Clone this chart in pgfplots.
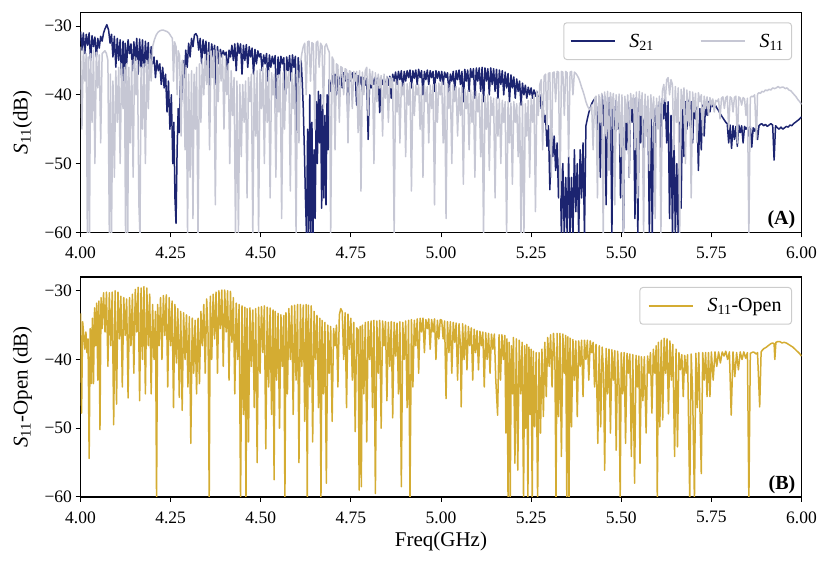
\documentclass[border=0pt]{standalone}
\usepackage{fontspec}
\setmainfont{Liberation Serif}
\usepackage{pgfplots}
\pgfplotsset{compat=1.18}
\definecolor{navyc}{RGB}{28,36,112}
\definecolor{grayc}{RGB}{198,199,212}
\definecolor{goldc}{RGB}{212,172,50}
\definecolor{legb}{RGB}{204,204,204}
\newcommand{\labfont}{\fontsize{21}{24}\selectfont}
\pgfplotsset{
 myax/.style={
  scale only axis, width=721pt, height=220pt,
  xmin=4, xmax=6, ymin=-60, ymax=-28,
  xtick={4,4.25,4.5,4.75,5,5.25,5.5,5.75,6},
  xticklabels={4.00,4.25,4.50,4.75,5.00,5.25,5.50,5.75,6.00},
  ytick={-60,-50,-40,-30},
  yticklabels={−60,−50,−40,−30},
  tick align=outside, tick pos=left,
  major tick length=5pt,
  every tick/.style={black, line width=1pt},
  axis line style={line width=1.1pt},
  tick label style={font=\fontsize{17.5}{20}\selectfont},
  xticklabel style={yshift=-6pt},
  every axis y label/.style={at={(axis description cs:-0.0804,0.5)}, rotate=90, anchor=center, font=\labfont},
  legend style={draw=legb, line width=1pt, rounded corners=3pt, fill=white,
    font=\fontsize{20}{24}\selectfont, at={(1,1)}, anchor=north east, xshift=-9.5pt, yshift=-10pt,
    inner xsep=6pt, inner ysep=9pt,
    /tikz/every odd column/.append style={column sep=12pt},
    /tikz/every even column/.append style={column sep=44pt}},
  legend image code/.code={\draw[#1,line width=1.6pt] (0pt,0pt) -- (44pt,0pt);},
  every axis plot/.append style={line width=1.5pt, line join=round},
 }
}
\begin{document}
\begin{tikzpicture}
% ---------------- top axis (A)
\begin{axis}[myax, at={(80.5pt,331.7pt)}, anchor=south west,
  ylabel={\textit{S}\textsubscript{11}(dB)}, legend columns=2]
\addplot[navyc] coordinates {
(4.000,-30.8) (4.004,-33.5) (4.008,-31.0) (4.012,-34.0) (4.016,-31.2) (4.020,-32.8) (4.024,-31.0) (4.028,-35.0) (4.032,-31.4) (4.036,-33.0) (4.040,-31.6) (4.044,-34.5) (4.048,-31.8) (4.052,-33.2) (4.056,-31.5) (4.060,-32.2) (4.064,-31.0) (4.068,-30.4) (4.073,-29.8) (4.078,-30.6) (4.082,-32.5) (4.086,-31.2) (4.090,-34.5) (4.094,-31.5) (4.098,-36.0) (4.102,-31.8) (4.106,-35.0) (4.110,-32.0) (4.114,-37.5) (4.118,-32.2) (4.121,-41.5) (4.124,-32.5) (4.128,-35.5) (4.132,-32.0) (4.136,-34.0) (4.140,-32.6) (4.144,-36.5) (4.148,-32.3) (4.152,-35.0) (4.156,-31.8) (4.160,-37.0) (4.164,-31.9) (4.168,-36.0) (4.172,-32.0) (4.176,-38.0) (4.180,-32.2) (4.184,-35.5) (4.188,-32.4) (4.192,-37.0) (4.196,-33.0) (4.200,-35.5) (4.204,-34.5) (4.208,-37.5) (4.212,-35.0) (4.216,-36.5) (4.220,-35.5) (4.224,-38.5) (4.228,-36.0) (4.232,-39.0) (4.236,-37.0) (4.240,-42.5) (4.244,-38.0) (4.248,-45.0) (4.252,-40.0) (4.256,-50.0) (4.259,-44.0) (4.262,-55.0) (4.265,-58.7) (4.268,-48.0) (4.271,-42.0) (4.274,-45.5) (4.277,-38.0) (4.280,-41.0) (4.284,-35.0) (4.288,-37.5) (4.292,-33.5) (4.296,-36.0) (4.300,-32.5) (4.304,-34.5) (4.308,-31.8) (4.312,-33.0) (4.316,-31.3) (4.320,-31.1) (4.324,-31.5) (4.328,-33.5) (4.332,-31.8) (4.336,-35.5) (4.340,-32.0) (4.344,-34.0) (4.348,-32.2) (4.352,-37.0) (4.356,-32.4) (4.358,-44.0) (4.360,-35.0) (4.364,-32.6) (4.368,-34.5) (4.372,-32.8) (4.376,-38.5) (4.380,-33.0) (4.384,-35.5) (4.388,-33.4) (4.392,-34.5) (4.396,-33.6) (4.400,-34.2) (4.404,-33.8) (4.408,-37.0) (4.412,-33.5) (4.416,-34.5) (4.420,-32.8) (4.424,-35.0) (4.428,-32.6) (4.432,-36.5) (4.436,-32.5) (4.440,-34.0) (4.444,-32.6) (4.448,-37.0) (4.452,-32.8) (4.456,-35.0) (4.460,-32.7) (4.464,-36.0) (4.468,-33.0) (4.472,-34.5) (4.476,-33.2) (4.480,-37.0) (4.484,-33.4) (4.488,-35.5) (4.492,-33.6) (4.496,-34.5) (4.500,-34.0)
(4.504,-36.5) (4.508,-34.2) (4.512,-35.5) (4.516,-34.0) (4.520,-38.0) (4.524,-34.2) (4.528,-36.0) (4.532,-34.4) (4.536,-35.5) (4.540,-34.3) (4.544,-42.5) (4.548,-34.5) (4.552,-37.0) (4.556,-34.4) (4.560,-35.5) (4.564,-34.6) (4.568,-41.0) (4.572,-34.5) (4.576,-36.5) (4.580,-34.3) (4.584,-38.0) (4.588,-34.2) (4.592,-36.0) (4.596,-34.4) (4.600,-45.5) (4.604,-34.6) (4.608,-37.5) (4.612,-35.0) (4.615,-38.0) (4.618,-42.0) (4.621,-48.0) (4.624,-55.0) (4.627,-60.5) (4.630,-45.0) (4.633,-60.5) (4.636,-40.0) (4.639,-60.5) (4.642,-44.0) (4.645,-60.5) (4.648,-48.0) (4.651,-58.0) (4.654,-41.0) (4.657,-50.0) (4.660,-39.5) (4.663,-47.0) (4.666,-40.0) (4.669,-56.5) (4.672,-41.5) (4.675,-55.0) (4.678,-43.0) (4.681,-56.0) (4.684,-40.0) (4.687,-48.0) (4.690,-37.8) (4.694,-39.5) (4.698,-37.2) (4.702,-38.5) (4.706,-37.0) (4.710,-40.0) (4.714,-37.1) (4.718,-38.5) (4.722,-37.0) (4.726,-39.0) (4.730,-36.8) (4.734,-38.0) (4.738,-36.8) (4.742,-43.6) (4.746,-36.9) (4.750,-38.0) (4.754,-36.8) (4.758,-37.8) (4.762,-36.9) (4.766,-41.5) (4.770,-37.2) (4.774,-38.5) (4.778,-37.4) (4.782,-39.5) (4.786,-37.5) (4.790,-38.6) (4.794,-37.6) (4.798,-46.5) (4.802,-37.7) (4.806,-39.0) (4.810,-37.6) (4.814,-38.5) (4.818,-37.4) (4.822,-40.0) (4.826,-37.5) (4.830,-42.6) (4.834,-37.6) (4.838,-38.5) (4.842,-37.5) (4.846,-39.5) (4.850,-37.4) (4.854,-38.6) (4.858,-37.3) (4.862,-40.5) (4.866,-37.0) (4.870,-38.0) (4.874,-36.7) (4.878,-38.5) (4.882,-36.6) (4.886,-37.8) (4.890,-36.5) (4.894,-39.5) (4.898,-36.6) (4.902,-38.0) (4.906,-36.5) (4.910,-37.5) (4.914,-36.4) (4.918,-39.0) (4.922,-36.5) (4.926,-37.6) (4.930,-36.4) (4.934,-38.5) (4.938,-36.3) (4.942,-37.5) (4.946,-36.5) (4.950,-40.0) (4.954,-36.6) (4.958,-37.8) (4.962,-36.4) (4.966,-38.5) (4.970,-36.5) (4.974,-37.5) (4.978,-36.6) (4.982,-39.5) (4.986,-36.5) (4.990,-37.6) (4.994,-36.6) (4.998,-38.0)
(5.002,-36.6) (5.006,-38.5) (5.010,-36.7) (5.014,-37.5) (5.018,-36.8) (5.022,-40.0) (5.026,-37.0) (5.030,-38.0) (5.034,-36.6) (5.038,-39.5) (5.042,-36.5) (5.046,-37.8) (5.050,-36.4) (5.054,-38.5) (5.058,-36.6) (5.062,-41.0) (5.066,-36.3) (5.070,-38.0) (5.074,-36.4) (5.078,-39.5) (5.082,-36.2) (5.086,-37.5) (5.090,-36.2) (5.094,-40.5) (5.098,-36.1) (5.102,-38.0) (5.106,-36.1) (5.110,-39.5) (5.114,-36.0) (5.118,-41.0) (5.122,-36.1) (5.126,-38.0) (5.130,-36.2) (5.134,-40.0) (5.138,-36.1) (5.142,-38.5) (5.146,-36.2) (5.150,-39.5) (5.154,-36.3) (5.158,-40.5) (5.162,-36.4) (5.166,-38.5) (5.170,-36.5) (5.174,-40.0) (5.178,-36.7) (5.182,-39.0) (5.186,-36.9) (5.190,-41.0) (5.194,-37.1) (5.198,-39.0) (5.202,-37.4) (5.206,-40.5) (5.210,-37.7) (5.214,-39.5) (5.218,-38.0) (5.222,-41.5) (5.226,-38.3) (5.230,-40.0) (5.234,-38.6) (5.238,-40.5) (5.242,-38.9) (5.246,-40.0) (5.250,-39.0) (5.254,-40.5) (5.258,-39.3) (5.262,-40.2) (5.266,-39.5) (5.270,-41.0) (5.274,-40.0) (5.278,-42.0) (5.282,-41.0) (5.286,-44.0) (5.290,-43.0) (5.294,-47.5) (5.298,-44.5) (5.302,-53.8) (5.306,-45.0) (5.310,-49.0) (5.314,-46.0) (5.318,-51.0) (5.322,-47.0) (5.326,-55.0) (5.330,-48.0) (5.334,-60.5) (5.338,-50.0) (5.342,-60.5) (5.346,-52.0) (5.350,-60.5) (5.354,-49.0) (5.358,-60.5) (5.362,-52.0) (5.366,-60.5) (5.370,-48.0) (5.374,-57.0) (5.378,-50.0) (5.382,-60.5) (5.386,-48.0) (5.390,-55.0) (5.394,-47.0) (5.398,-60.5) (5.402,-44.5) (5.406,-43.5) (5.410,-42.6) (5.414,-41.9) (5.418,-41.3) (5.422,-40.9) (5.426,-40.6) (5.430,-40.5) (5.434,-48.0) (5.438,-40.3) (5.442,-52.0) (5.446,-40.0) (5.450,-44.5) (5.454,-40.2) (5.458,-56.0) (5.462,-40.4) (5.466,-46.0) (5.470,-40.3) (5.474,-60.5) (5.478,-40.5) (5.482,-50.0) (5.486,-40.8) (5.490,-45.0) (5.494,-41.0) (5.498,-55.0)
(5.502,-41.0) (5.506,-60.5) (5.510,-41.5) (5.514,-48.0) (5.518,-41.0) (5.522,-52.0) (5.526,-40.8) (5.530,-44.0) (5.534,-40.5) (5.538,-58.0) (5.542,-40.4) (5.546,-60.5) (5.550,-40.6) (5.554,-47.0) (5.558,-40.8) (5.562,-53.0) (5.566,-41.0) (5.570,-45.0) (5.574,-41.2) (5.578,-60.5) (5.582,-41.0) (5.586,-60.5) (5.590,-42.0) (5.594,-48.0) (5.598,-41.5) (5.602,-44.0) (5.606,-41.0) (5.610,-50.0) (5.614,-40.5) (5.618,-43.5) (5.622,-40.3) (5.626,-47.0) (5.630,-41.0) (5.634,-58.0) (5.638,-43.0) (5.642,-60.5) (5.646,-45.0) (5.650,-60.5) (5.654,-50.0) (5.658,-60.5) (5.662,-44.0) (5.666,-56.5) (5.670,-42.0) (5.674,-49.0) (5.678,-41.0) (5.682,-45.0) (5.686,-40.8) (5.690,-44.5) (5.694,-41.0) (5.698,-47.0) (5.702,-41.3) (5.706,-43.5) (5.710,-41.8) (5.714,-51.0) (5.718,-42.0) (5.722,-48.0) (5.726,-41.5) (5.730,-46.0) (5.734,-41.2) (5.738,-43.0) (5.742,-41.0) (5.746,-42.5) (5.750,-41.0) (5.754,-41.7) (5.758,-41.9) (5.762,-41.6) (5.766,-42.0) (5.770,-42.3) (5.775,-42.8) (5.780,-43.2) (5.785,-43.6) (5.790,-44.0) (5.794,-44.2) (5.798,-47.0) (5.802,-44.4) (5.806,-47.8) (5.810,-44.5) (5.814,-46.5) (5.818,-44.6) (5.822,-47.5) (5.826,-44.4) (5.830,-45.5) (5.834,-44.5) (5.838,-47.0) (5.842,-44.6) (5.846,-45.0) (5.850,-44.7) (5.854,-46.0) (5.858,-44.6) (5.862,-47.6) (5.866,-44.8) (5.870,-45.3) (5.874,-44.6) (5.878,-46.5) (5.882,-44.5) (5.886,-44.3) (5.890,-44.2) (5.895,-44.5) (5.900,-44.3) (5.905,-44.6) (5.910,-44.4) (5.915,-44.2) (5.920,-44.4) (5.924,-49.5) (5.928,-44.5) (5.933,-44.8) (5.938,-45.0) (5.943,-44.7) (5.948,-45.0) (5.953,-44.8) (5.958,-44.6) (5.963,-44.7) (5.968,-44.4) (5.973,-44.5) (5.978,-44.2) (5.983,-44.0) (5.988,-43.8) (5.993,-43.6) (6.000,-43.2)
};
\addplot[grayc] coordinates {
(4.000,-33.0) (4.004,-45.0) (4.008,-33.2) (4.012,-38.0) (4.016,-34.0) (4.019,-60.5) (4.022,-34.5) (4.025,-60.5) (4.028,-34.0) (4.032,-44.0) (4.036,-33.5) (4.040,-50.0) (4.044,-33.8) (4.048,-39.0) (4.052,-34.2) (4.056,-47.0) (4.060,-34.0) (4.064,-33.8) (4.068,-33.6) (4.072,-34.0) (4.076,-35.0) (4.080,-60.5) (4.083,-37.0) (4.086,-60.5) (4.090,-38.0) (4.094,-52.0) (4.098,-36.5) (4.102,-44.0) (4.106,-36.0) (4.110,-50.0) (4.114,-35.5) (4.118,-42.0) (4.122,-36.0) (4.125,-60.5) (4.128,-35.5) (4.131,-60.5) (4.134,-36.0) (4.138,-47.0) (4.142,-35.0) (4.146,-52.0) (4.150,-34.5) (4.154,-40.0) (4.158,-35.0) (4.162,-56.0) (4.165,-60.5) (4.168,-36.0) (4.172,-45.0) (4.176,-35.5) (4.180,-50.0) (4.184,-35.0) (4.188,-42.0) (4.192,-34.0) (4.196,-38.0) (4.200,-33.0) (4.205,-32.0) (4.210,-31.3) (4.215,-30.9) (4.220,-30.7) (4.225,-30.6) (4.230,-30.6) (4.235,-30.7) (4.240,-30.8) (4.245,-31.0) (4.250,-31.4) (4.255,-31.8) (4.258,-38.0) (4.261,-32.3) (4.265,-33.0) (4.268,-40.0) (4.271,-33.6) (4.275,-34.3) (4.279,-46.0) (4.282,-35.0) (4.286,-35.8) (4.290,-48.0) (4.293,-36.0) (4.297,-60.5) (4.300,-37.0) (4.304,-52.0) (4.308,-36.5) (4.312,-58.0) (4.315,-37.0) (4.319,-45.0) (4.322,-36.0) (4.326,-60.5) (4.330,-35.5) (4.334,-44.0) (4.338,-34.8) (4.342,-40.0) (4.346,-34.2) (4.350,-38.5) (4.354,-33.8) (4.358,-48.0) (4.362,-33.6) (4.366,-37.5) (4.370,-33.5) (4.374,-56.0) (4.378,-33.6) (4.382,-41.0) (4.386,-33.8) (4.390,-38.0) (4.394,-34.2) (4.398,-45.0) (4.402,-34.8) (4.406,-40.0) (4.410,-35.5) (4.414,-50.0) (4.418,-36.5) (4.422,-43.0) (4.426,-37.5) (4.430,-60.5) (4.434,-38.0) (4.438,-60.5) (4.442,-38.5) (4.446,-49.0) (4.450,-38.5) (4.454,-44.0) (4.458,-38.0) (4.462,-55.0) (4.466,-37.5) (4.470,-41.0) (4.474,-37.0) (4.478,-60.5) (4.482,-36.8) (4.486,-46.0) (4.490,-36.5) (4.494,-60.5) (4.498,-36.3) (4.502,-42.0)
(4.506,-36.0) (4.510,-50.0) (4.514,-36.2) (4.518,-44.0) (4.522,-36.5) (4.526,-55.0) (4.530,-36.8) (4.534,-40.0) (4.538,-37.0) (4.542,-52.0) (4.546,-37.2) (4.550,-42.5) (4.554,-37.0) (4.558,-58.0) (4.562,-36.8) (4.566,-45.0) (4.570,-36.5) (4.574,-39.0) (4.578,-36.6) (4.582,-54.0) (4.586,-36.8) (4.590,-42.0) (4.594,-37.0) (4.598,-60.5) (4.602,-36.5) (4.606,-47.0) (4.610,-35.5) (4.614,-34.0) (4.618,-33.0) (4.622,-32.5) (4.626,-40.0) (4.630,-32.3) (4.634,-32.2) (4.638,-38.0) (4.642,-32.4) (4.646,-32.6) (4.650,-45.0) (4.654,-32.4) (4.658,-32.2) (4.662,-36.0) (4.666,-32.5) (4.670,-32.9) (4.674,-42.0) (4.678,-33.0) (4.682,-32.6) (4.686,-33.3) (4.690,-33.8) (4.694,-60.5) (4.698,-34.5) (4.702,-35.0) (4.706,-48.0) (4.710,-35.5) (4.714,-35.7) (4.718,-44.0) (4.722,-35.9) (4.726,-36.1) (4.730,-40.0) (4.734,-36.2) (4.738,-36.4) (4.742,-47.0) (4.746,-36.5) (4.750,-36.7) (4.754,-42.0) (4.758,-36.6) (4.762,-38.0) (4.766,-36.6) (4.770,-45.5) (4.774,-36.5) (4.778,-54.0) (4.782,-36.7) (4.786,-40.0) (4.790,-36.5) (4.794,-36.0) (4.798,-43.0) (4.802,-36.3) (4.806,-38.5) (4.810,-36.6) (4.814,-50.0) (4.818,-36.8) (4.822,-41.0) (4.826,-37.0) (4.830,-39.0) (4.834,-37.2) (4.838,-46.0) (4.842,-37.0) (4.846,-40.5) (4.850,-37.3) (4.854,-44.0) (4.858,-37.5) (4.862,-39.0) (4.866,-37.6) (4.870,-60.5) (4.874,-37.8) (4.878,-42.5) (4.882,-38.0) (4.886,-47.0) (4.890,-38.2) (4.894,-40.0) (4.898,-38.3) (4.902,-49.0) (4.906,-38.4) (4.910,-41.5) (4.914,-38.2) (4.918,-54.0) (4.922,-38.4) (4.926,-43.0) (4.930,-38.6) (4.934,-40.0) (4.938,-38.5) (4.942,-45.0) (4.946,-38.7) (4.950,-52.0) (4.954,-38.6) (4.958,-41.0) (4.962,-38.8) (4.966,-47.0) (4.970,-38.6) (4.974,-42.0) (4.978,-38.5) (4.982,-56.0) (4.986,-38.4) (4.990,-44.0) (4.994,-38.3) (4.998,-40.0)
(5.002,-38.0) (5.006,-47.0) (5.010,-38.2) (5.014,-58.0) (5.018,-38.4) (5.022,-42.0) (5.026,-38.6) (5.030,-50.0) (5.034,-38.5) (5.038,-41.0) (5.042,-38.8) (5.046,-46.0) (5.050,-39.0) (5.054,-43.0) (5.058,-38.9) (5.062,-53.0) (5.066,-39.2) (5.070,-42.0) (5.074,-39.4) (5.078,-48.0) (5.082,-39.3) (5.086,-44.0) (5.090,-39.6) (5.094,-52.0) (5.098,-39.5) (5.102,-42.5) (5.106,-39.8) (5.110,-49.0) (5.114,-40.0) (5.118,-60.5) (5.122,-40.2) (5.126,-45.0) (5.130,-40.0) (5.134,-51.0) (5.138,-40.3) (5.142,-43.0) (5.146,-40.5) (5.150,-55.0) (5.154,-40.4) (5.158,-46.0) (5.162,-40.6) (5.166,-50.0) (5.170,-40.8) (5.174,-44.0) (5.178,-41.0) (5.182,-60.5) (5.186,-41.0) (5.190,-47.0) (5.194,-41.2) (5.198,-53.0) (5.202,-41.0) (5.206,-44.0) (5.210,-41.3) (5.214,-49.0) (5.218,-41.2) (5.222,-60.5) (5.226,-41.0) (5.230,-60.5) (5.234,-41.3) (5.238,-46.0) (5.242,-40.8) (5.246,-52.0) (5.250,-40.5) (5.254,-44.0) (5.258,-40.0) (5.262,-57.0) (5.266,-39.5) (5.270,-43.0) (5.274,-38.5) (5.278,-37.8) (5.282,-48.0) (5.286,-37.3) (5.290,-37.0) (5.294,-45.0) (5.298,-36.9) (5.302,-36.8) (5.306,-52.0) (5.310,-36.8) (5.314,-36.7) (5.318,-41.0) (5.322,-36.6) (5.326,-36.7) (5.330,-55.0) (5.334,-36.6) (5.338,-36.7) (5.342,-43.0) (5.346,-36.6) (5.350,-36.8) (5.354,-49.0) (5.358,-36.7) (5.362,-36.6) (5.366,-40.0) (5.370,-36.7) (5.374,-36.9) (5.378,-37.2) (5.382,-37.6) (5.386,-38.2) (5.390,-38.9) (5.394,-39.5) (5.398,-40.2) (5.402,-41.0) (5.406,-41.6) (5.410,-42.0) (5.414,-42.2) (5.418,-41.5) (5.422,-48.0) (5.426,-40.5) (5.430,-40.2) (5.434,-55.0) (5.438,-40.0) (5.442,-44.0) (5.446,-39.8) (5.450,-60.5) (5.454,-39.6) (5.458,-46.0) (5.462,-39.5) (5.466,-51.0) (5.470,-39.7) (5.474,-42.0) (5.478,-39.8) (5.482,-56.0) (5.486,-40.0) (5.490,-45.0) (5.494,-39.9) (5.498,-49.0)
(5.502,-40.0) (5.506,-60.5) (5.510,-40.2) (5.514,-44.0) (5.518,-40.0) (5.522,-52.0) (5.526,-39.8) (5.530,-42.0) (5.534,-40.0) (5.538,-48.0) (5.542,-39.6) (5.546,-55.0) (5.550,-39.5) (5.554,-43.0) (5.558,-39.7) (5.562,-60.5) (5.566,-39.9) (5.570,-46.0) (5.574,-40.2) (5.578,-51.0) (5.582,-40.0) (5.586,-43.5) (5.590,-40.3) (5.594,-58.0) (5.598,-40.5) (5.602,-45.0) (5.606,-40.2) (5.610,-60.5) (5.614,-39.5) (5.618,-38.5) (5.622,-41.0) (5.626,-37.8) (5.630,-37.5) (5.634,-40.0) (5.638,-37.8) (5.642,-38.5) (5.646,-48.0) (5.650,-38.8) (5.654,-44.0) (5.658,-39.0) (5.662,-60.5) (5.666,-39.2) (5.670,-42.0) (5.674,-39.0) (5.678,-50.0) (5.682,-39.3) (5.686,-44.0) (5.690,-39.5) (5.694,-55.0) (5.698,-39.6) (5.702,-42.5) (5.706,-39.8) (5.710,-47.0) (5.714,-39.7) (5.718,-41.0) (5.722,-40.0) (5.726,-45.5) (5.730,-40.2) (5.734,-42.0) (5.738,-40.3) (5.742,-43.0) (5.746,-40.4) (5.750,-41.5) (5.754,-40.6) (5.758,-42.5) (5.762,-40.8) (5.766,-41.0) (5.770,-40.6) (5.774,-43.5) (5.778,-40.5) (5.782,-40.3) (5.786,-42.0) (5.790,-40.4) (5.794,-40.2) (5.798,-45.0) (5.802,-40.3) (5.806,-40.5) (5.810,-42.5) (5.814,-40.4) (5.818,-40.2) (5.822,-47.0) (5.826,-40.3) (5.830,-40.5) (5.834,-41.5) (5.838,-40.4) (5.842,-40.6) (5.846,-43.0) (5.850,-40.5) (5.854,-60.5) (5.858,-40.4) (5.862,-40.2) (5.866,-40.3) (5.870,-40.0) (5.875,-46.5) (5.878,-39.9) (5.882,-39.7) (5.886,-39.8) (5.890,-39.5) (5.895,-39.6) (5.900,-39.3) (5.905,-39.4) (5.910,-39.2) (5.915,-39.3) (5.920,-39.0) (5.925,-39.1) (5.930,-39.0) (5.935,-38.8) (5.940,-39.0) (5.945,-38.9) (5.950,-38.9) (5.955,-39.1) (5.960,-39.0) (5.965,-39.3) (5.970,-39.4) (5.975,-39.7) (5.980,-40.0) (5.985,-40.3) (5.990,-40.7) (5.995,-41.0) (6.000,-41.4)
};
\legend{\textit{S}\textsubscript{21}, \textit{S}\textsubscript{11}}
\node[anchor=south east, font=\fontsize{20}{24}\selectfont\bfseries, inner sep=0pt] at (rel axis cs:1,0) [xshift=-6pt, yshift=3pt] {(A)};
\end{axis}
% ---------------- bottom axis (B)
\begin{axis}[myax, at={(80.5pt,67pt)}, anchor=south west,
  ylabel={\textit{S}\textsubscript{11}-Open (dB)}, xlabel={Freq(GHz)},
  every axis x label/.style={at={(axis description cs:0.5,-0.2)}, anchor=center, font=\labfont},
  legend style={inner xsep=8pt}]
\addplot[goldc] coordinates {
(4.000,-33.3) (4.003,-47.8) (4.006,-34.5) (4.009,-36.5) (4.012,-38.5) (4.015,-36.0) (4.018,-39.0) (4.021,-37.0) (4.024,-54.4) (4.027,-35.5) (4.030,-43.5) (4.033,-34.0) (4.036,-43.5) (4.039,-32.5) (4.042,-38.0) (4.045,-31.8) (4.048,-43.0) (4.051,-31.5) (4.054,-50.2) (4.057,-31.0) (4.060,-35.5) (4.064,-30.3) (4.068,-36.0) (4.072,-30.2) (4.076,-41.0) (4.080,-30.3) (4.084,-38.0) (4.088,-30.2) (4.092,-49.5) (4.096,-30.0) (4.100,-46.5) (4.104,-30.2) (4.108,-37.0) (4.112,-30.8) (4.116,-44.0) (4.120,-31.0) (4.124,-36.5) (4.128,-31.2) (4.132,-45.6) (4.136,-31.0) (4.140,-38.0) (4.144,-30.5) (4.148,-42.0) (4.152,-29.8) (4.156,-36.0) (4.160,-29.5) (4.164,-46.0) (4.168,-29.6) (4.172,-40.0) (4.176,-29.4) (4.180,-45.0) (4.184,-29.6) (4.188,-38.0) (4.192,-30.5) (4.196,-45.0) (4.200,-32.0) (4.204,-40.0) (4.208,-33.0) (4.211,-60.5) (4.214,-32.0) (4.218,-38.0) (4.222,-31.0) (4.226,-40.0) (4.230,-30.7) (4.234,-36.5) (4.238,-30.6) (4.242,-44.0) (4.246,-31.0) (4.250,-38.0) (4.254,-31.5) (4.258,-47.0) (4.262,-32.0) (4.266,-40.5) (4.270,-32.6) (4.274,-45.5) (4.278,-33.0) (4.282,-47.4) (4.286,-33.2) (4.290,-40.0) (4.294,-33.5) (4.298,-44.0) (4.302,-33.8) (4.306,-52.2) (4.310,-34.0) (4.314,-42.0) (4.318,-34.3) (4.322,-45.0) (4.326,-34.0) (4.330,-43.5) (4.334,-33.0) (4.338,-38.0) (4.342,-32.0) (4.346,-42.0) (4.350,-31.2) (4.354,-36.5) (4.357,-60.5) (4.360,-30.8) (4.364,-40.0) (4.368,-30.5) (4.372,-37.0) (4.376,-30.2) (4.380,-42.0) (4.384,-30.0) (4.388,-35.5) (4.392,-29.9) (4.396,-41.0) (4.400,-29.9) (4.404,-36.0) (4.408,-30.0) (4.412,-43.0) (4.416,-30.1) (4.420,-37.5) (4.424,-31.0) (4.428,-45.0) (4.432,-31.8) (4.436,-40.0) (4.440,-32.0) (4.444,-60.5) (4.448,-32.2) (4.452,-48.0) (4.456,-32.4) (4.459,-60.5) (4.462,-32.6) (4.466,-52.0) (4.470,-32.5) (4.474,-41.0) (4.478,-32.8) (4.482,-47.0) (4.486,-32.6) (4.490,-55.0) (4.494,-32.4) (4.498,-42.0)
(4.502,-32.3) (4.506,-39.0) (4.510,-32.2) (4.514,-53.0) (4.518,-32.4) (4.522,-44.0) (4.526,-32.5) (4.530,-48.0) (4.534,-32.8) (4.537,-57.5) (4.540,-33.0) (4.544,-43.0) (4.548,-33.3) (4.552,-50.0) (4.556,-33.5) (4.560,-41.0) (4.564,-33.6) (4.567,-60.5) (4.570,-33.2) (4.574,-45.0) (4.578,-32.6) (4.582,-40.0) (4.586,-32.2) (4.590,-48.0) (4.594,-32.1) (4.598,-43.0) (4.602,-32.0) (4.606,-55.0) (4.610,-32.0) (4.614,-41.0) (4.618,-32.1) (4.622,-49.0) (4.626,-32.0) (4.629,-60.0) (4.632,-32.1) (4.636,-44.0) (4.640,-32.2) (4.644,-52.0) (4.648,-33.0) (4.652,-40.0) (4.656,-33.6) (4.660,-47.0) (4.664,-34.0) (4.667,-60.5) (4.670,-34.3) (4.674,-45.0) (4.678,-34.6) (4.682,-58.0) (4.686,-35.0) (4.690,-42.0) (4.694,-35.2) (4.698,-49.0) (4.702,-35.5) (4.706,-38.0) (4.710,-35.0) (4.714,-44.0) (4.718,-33.5) (4.722,-32.6) (4.726,-33.0) (4.730,-40.0) (4.734,-33.2) (4.738,-47.0) (4.742,-33.4) (4.746,-38.5) (4.750,-34.0) (4.754,-43.0) (4.758,-34.6) (4.762,-50.5) (4.766,-35.4) (4.770,-35.7) (4.773,-59.0) (4.776,-35.2) (4.779,-58.5) (4.782,-35.0) (4.786,-45.0) (4.790,-34.6) (4.794,-52.0) (4.798,-34.5) (4.802,-40.0) (4.806,-34.4) (4.810,-47.0) (4.814,-34.3) (4.818,-59.5) (4.822,-34.4) (4.826,-42.0) (4.830,-34.3) (4.834,-50.0) (4.838,-34.4) (4.842,-38.0) (4.846,-34.5) (4.850,-46.0) (4.854,-34.6) (4.858,-41.0) (4.862,-34.5) (4.866,-48.5) (4.870,-34.6) (4.874,-39.5) (4.878,-34.7) (4.882,-45.0) (4.886,-34.5) (4.890,-58.5) (4.894,-34.6) (4.898,-40.0) (4.902,-34.4) (4.906,-47.0) (4.910,-34.3) (4.914,-60.0) (4.918,-34.2) (4.922,-44.0) (4.926,-34.3) (4.930,-38.0) (4.934,-34.1) (4.938,-42.0) (4.942,-34.0) (4.946,-36.0) (4.950,-34.0) (4.954,-39.0) (4.958,-34.2) (4.962,-35.5) (4.966,-34.1) (4.970,-38.5) (4.974,-34.2) (4.978,-36.0) (4.982,-34.1) (4.986,-40.0) (4.990,-34.3) (4.994,-37.0) (4.998,-34.2)
(5.002,-34.3) (5.006,-37.0) (5.010,-34.4) (5.014,-45.7) (5.018,-34.5) (5.022,-39.0) (5.026,-34.5) (5.030,-42.0) (5.034,-34.6) (5.038,-37.5) (5.042,-34.7) (5.046,-43.0) (5.050,-34.8) (5.054,-38.0) (5.056,-46.9) (5.060,-34.8) (5.064,-40.0) (5.068,-35.0) (5.072,-41.5) (5.076,-35.2) (5.080,-38.0) (5.084,-35.4) (5.088,-43.0) (5.092,-35.6) (5.096,-39.0) (5.100,-35.8) (5.104,-41.5) (5.108,-35.9) (5.112,-38.0) (5.116,-36.0) (5.120,-44.0) (5.124,-36.1) (5.128,-40.0) (5.132,-36.2) (5.136,-42.0) (5.140,-36.3) (5.144,-38.5) (5.148,-36.3) (5.152,-43.0) (5.157,-48.1) (5.161,-36.4) (5.165,-43.0) (5.169,-36.4) (5.173,-40.0) (5.177,-36.5) (5.180,-50.7) (5.183,-37.0) (5.186,-60.5) (5.189,-37.5) (5.192,-60.5) (5.195,-38.0) (5.198,-45.0) (5.201,-36.8) (5.205,-55.1) (5.209,-37.0) (5.213,-56.1) (5.217,-37.2) (5.221,-45.0) (5.225,-37.5) (5.229,-60.5) (5.232,-38.0) (5.235,-50.0) (5.238,-37.8) (5.241,-60.5) (5.244,-38.2) (5.247,-48.0) (5.250,-38.5) (5.253,-60.5) (5.256,-38.8) (5.260,-49.8) (5.264,-39.0) (5.268,-60.5) (5.272,-39.0) (5.276,-50.7) (5.280,-38.5) (5.284,-48.3) (5.288,-37.5) (5.292,-45.4) (5.296,-36.8) (5.300,-41.0) (5.304,-36.4) (5.308,-44.0) (5.312,-36.2) (5.316,-40.0) (5.319,-60.5) (5.322,-36.2) (5.326,-48.3) (5.330,-36.2) (5.334,-54.1) (5.338,-36.3) (5.342,-42.0) (5.346,-36.5) (5.349,-60.5) (5.352,-36.7) (5.355,-60.5) (5.358,-36.9) (5.362,-49.8) (5.366,-37.1) (5.370,-43.0) (5.374,-37.3) (5.378,-48.3) (5.382,-37.3) (5.386,-41.0) (5.390,-37.2) (5.394,-45.4) (5.398,-37.2) (5.402,-40.0) (5.406,-37.2) (5.410,-43.0) (5.414,-37.3) (5.418,-39.0) (5.422,-37.5) (5.426,-44.0) (5.430,-37.8) (5.435,-52.2) (5.439,-38.0) (5.443,-49.8) (5.447,-38.2) (5.451,-42.0) (5.454,-56.1) (5.458,-38.4) (5.462,-45.0) (5.466,-38.5) (5.470,-50.7) (5.474,-38.6) (5.478,-43.0) (5.482,-38.7) (5.486,-53.2) (5.490,-38.8) (5.494,-44.0) (5.497,-60.5) (5.500,-39.0)
(5.504,-45.0) (5.508,-39.0) (5.512,-52.2) (5.516,-39.1) (5.520,-42.0) (5.524,-39.2) (5.528,-54.1) (5.532,-39.3) (5.537,-58.0) (5.541,-39.4) (5.545,-44.0) (5.549,-39.5) (5.552,-55.1) (5.556,-39.6) (5.560,-46.0) (5.564,-39.6) (5.569,-50.7) (5.573,-39.5) (5.577,-42.0) (5.581,-39.0) (5.585,-47.8) (5.589,-38.5) (5.593,-42.0) (5.597,-38.0) (5.600,-60.5) (5.603,-37.5) (5.607,-49.8) (5.611,-37.2) (5.615,-48.8) (5.619,-36.9) (5.623,-42.0) (5.627,-37.0) (5.631,-47.9) (5.635,-37.3) (5.639,-43.0) (5.643,-37.8) (5.648,-54.1) (5.652,-38.5) (5.656,-52.7) (5.660,-39.0) (5.664,-41.5) (5.668,-39.3) (5.672,-45.4) (5.676,-39.4) (5.680,-42.0) (5.684,-39.3) (5.690,-60.5) (5.694,-39.2) (5.698,-45.0) (5.703,-60.5) (5.707,-39.1) (5.711,-47.0) (5.715,-39.0) (5.722,-56.6) (5.726,-39.0) (5.730,-43.0) (5.734,-39.0) (5.738,-45.4) (5.742,-39.0) (5.746,-45.4) (5.750,-38.9) (5.755,-43.0) (5.760,-38.9) (5.765,-41.0) (5.770,-38.9) (5.775,-40.5) (5.780,-38.9) (5.785,-39.5) (5.790,-38.8) (5.795,-40.0) (5.800,-38.9) (5.805,-48.1) (5.810,-38.9) (5.815,-42.5) (5.820,-39.0) (5.825,-41.5) (5.830,-38.9) (5.835,-40.0) (5.840,-38.9) (5.845,-39.8) (5.850,-39.0) (5.854,-60.5) (5.858,-39.1) (5.862,-39.0) (5.866,-38.9) (5.870,-39.0) (5.874,-39.2) (5.878,-39.0) (5.884,-46.9) (5.888,-38.9) (5.892,-38.6) (5.896,-38.4) (5.900,-38.3) (5.905,-38.1) (5.910,-37.9) (5.915,-37.7) (5.920,-37.6) (5.924,-37.7) (5.926,-40.0) (5.929,-37.5) (5.934,-37.4) (5.940,-37.4) (5.946,-37.6) (5.952,-37.5) (5.958,-37.6) (5.964,-37.8) (5.970,-38.0) (5.976,-38.2) (5.982,-38.5) (5.988,-38.8) (5.994,-39.1) (6.000,-39.5)
};
\legend{\textit{S}\textsubscript{11}-Open}
\node[anchor=south east, font=\fontsize{20}{24}\selectfont\bfseries, inner sep=0pt] at (rel axis cs:1,0) [xshift=-6pt, yshift=3pt] {(B)};
\end{axis}
\pgfresetboundingbox
\path[use as bounding box] (0,0) rectangle (830pt,564pt);
\end{tikzpicture}
\end{document}
